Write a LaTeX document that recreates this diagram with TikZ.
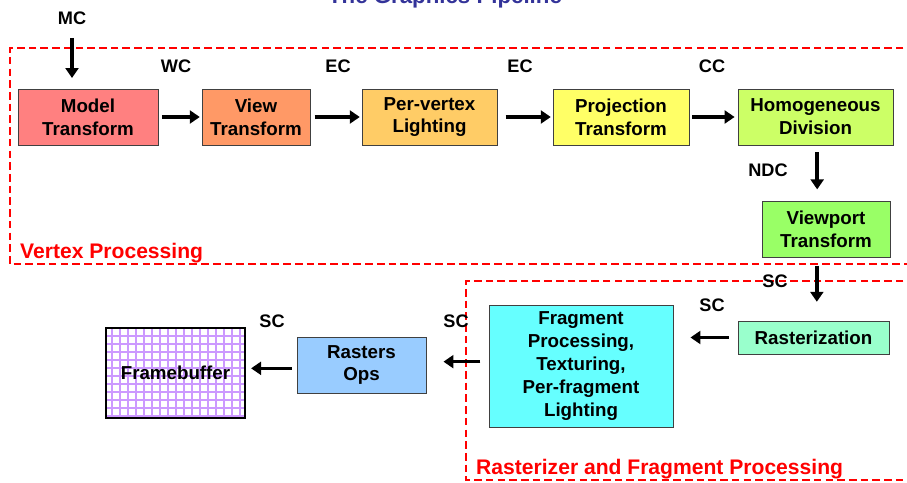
\documentclass[tikz,border=0pt]{standalone}
\usepackage{fontspec}
\setmainfont{Liberation Sans}
\usepackage{tikz}
\usetikzlibrary{arrows.meta,positioning}
\definecolor{modelred}{RGB}{255,128,128}
\definecolor{vieworange}{RGB}{255,153,102}
\definecolor{lightorange}{RGB}{255,204,102}
\definecolor{projyellow}{RGB}{255,255,102}
\definecolor{homoggreen}{RGB}{204,255,102}
\definecolor{vpgreen}{RGB}{153,255,102}
\definecolor{mint}{RGB}{153,255,204}
\definecolor{fragcyan}{RGB}{102,255,255}
\definecolor{opsblue}{RGB}{153,204,255}
\definecolor{lavender}{RGB}{204,153,255}
\definecolor{titleblue}{RGB}{51,51,153}
\tikzset{>=stealth}
\tikzset{
  stage/.style={draw=black!75, line width=0.8pt, align=center, inner sep=0pt,
    font=\bfseries\fontsize{16}{19.5}\selectfont},
  pipe/.style={line width=3pt, -{Triangle[length=8.5pt,width=11pt]}},
  coordlbl/.style={font=\bfseries\fontsize{15.5}{17}\selectfont, inner sep=0pt},
  region/.style={draw=red, line width=2.1pt, dash pattern=on 6.5pt off 3.5pt},
  regionlbl/.style={text=red, font=\bfseries\fontsize{18}{20}\selectfont, inner sep=0pt, anchor=base west}
}

\begin{document}
\begin{tikzpicture}[x=0.03cm,y=-0.03cm]
    \useasboundingbox (0,0) rectangle (907,483);
    % title, cut by the page top
    \node[text=titleblue, font=\bfseries\fontsize{19}{21}\selectfont, anchor=base] (title) at (445,4) {The Graphics Pipeline};

    % the two regions
    \draw[region] (915,48) -- (10,48) -- (10,264) -- (915,264);
    \draw[region] (915,281) -- (466,281) -- (466,480) -- (915,480);
    \node[regionlbl] (vplbl) at (20,258) {Vertex Processing};
    \node[regionlbl] (rflbl) at (476,474) {Rasterizer and Fragment Processing};

    % stages
    \node[stage, fill=modelred, minimum width=4.2cm, minimum height=1.68cm] (model) at (88,117) {Model\\Transform};
    \node[stage, fill=vieworange, minimum width=3.24cm, minimum height=1.68cm] (view) at (256,117) {View\\Transform};
    \node[stage, fill=lightorange, minimum width=4.05cm, minimum height=1.68cm] (vertexlight) at (429.5,117) {Per-vertex\\Lighting};
    \node[stage, fill=projyellow, minimum width=4.08cm, minimum height=1.68cm] (proj) at (621,117) {Projection\\Transform};
    \node[stage, fill=homoggreen, minimum width=4.65cm, minimum height=1.68cm] (homog) at (815.5,117) {Homogeneous\\Division};
    \node[stage, fill=vpgreen, minimum width=3.84cm, minimum height=1.68cm] (viewport) at (826,229) {Viewport\\Transform};
    \node[stage, fill=mint, minimum width=4.53cm, minimum height=0.99cm] (raster) at (813.5,337.5) {Rasterization};
    \node[stage, fill=fragcyan, minimum width=5.52cm, minimum height=3.66cm] (fragment) at (581,366) {Fragment\\Processing,\\Texturing,\\Per-fragment\\Lighting};
    \node[stage, fill=opsblue, minimum width=3.87cm, minimum height=1.68cm] (rasterops) at (361.5,365) {Rasters\\Ops};

    % framebuffer with its pixel grid
    \begin{scope}
        \clip (106,328) rectangle (245,418);
        \fill[white] (106,328) rectangle (245,418);
        \draw[lavender, line width=1.6pt, step=0.24cm] (100,320) grid (250,420);
    \end{scope}
    \node[stage, draw=black, line width=2.4pt, minimum width=4.17cm, minimum height=2.7cm] (framebuf) at (175.5,373) {Framebuffer};

    % coordinate labels
    \node[coordlbl] (mc) at (72,18) {MC};
    \node[coordlbl] (wc) at (176,66) {WC};
    \node[coordlbl] (ec1) at (338,66) {EC};
    \node[coordlbl] (ec2) at (520,66) {EC};
    \node[coordlbl] (cc) at (712,66) {CC};
    \node[coordlbl] (ndc) at (768,170) {NDC};
    \node[coordlbl] (sc1) at (775,281) {SC};
    \node[coordlbl] (sc2) at (712,305) {SC};
    \node[coordlbl] (sc3) at (456,321) {SC};
    \node[coordlbl] (sc4) at (272,321) {SC};

    % the flow
    \coordinate (mcin) at (72,38);
    \draw[pipe, shorten >=9pt] (mcin) -- (mcin |- model.north);
    \draw[pipe, shorten <=3pt, shorten >=1.5pt] (model) -- (view);
    \draw[pipe, shorten <=3.5pt, shorten >=1.5pt] (view) -- (vertexlight);
    \draw[pipe, shorten <=7pt, shorten >=1.5pt] (vertexlight) -- (proj);
    \draw[pipe, shorten <=2.5pt, shorten >=2.5pt] (proj) -- (homog);
    \draw[pipe, shorten <=6pt, shorten >=9.5pt] ([xshift=0.05cm]homog.south) -- ([xshift=0.05cm]homog.south |- viewport.north);
    \draw[pipe, shorten <=7pt, shorten >=16pt] ([xshift=0.1cm]viewport.south -| raster.north) -- ([xshift=0.1cm]raster.north);
    \draw[pipe, shorten <=7.5pt, shorten >=14.5pt] (raster.west) -- (raster.west -| fragment.east);
    \draw[pipe, shorten <=7pt, shorten >=14.5pt] ([yshift=0.1cm]fragment.west |- rasterops.east) -- ([yshift=0.1cm]rasterops.east);
    \draw[pipe, shorten <=4pt, shorten >=4pt] ([yshift=-0.1cm]rasterops.west) -- ([yshift=-0.1cm]rasterops.west -| framebuf.east);
\end{tikzpicture}
\end{document}
